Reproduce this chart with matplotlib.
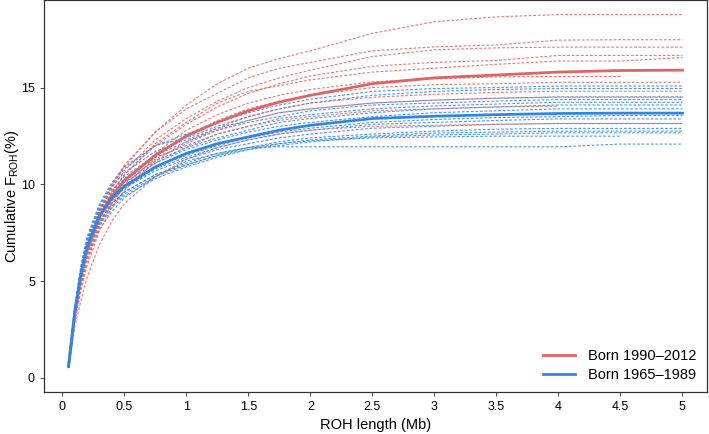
import numpy as np
import matplotlib
matplotlib.use("Agg")
import matplotlib.pyplot as plt

plt.rcParams['font.family'] = ['Liberation Sans', 'DejaVu Sans']

# ROH length grid (Mb)
roh_length = [0.05, 0.1, 0.15, 0.2, 0.3, 0.4, 0.5, 0.75, 1.0, 1.25, 1.5, 1.75,
              2.0, 2.5, 3.0, 3.5, 4.0, 4.5, 5.0]

nan = float('nan')

# Born 1990-2012: mean and individual cumulative F_ROH (%)
young_mean = [0.6, 3.3, 5.2, 6.6, 8.3, 9.4, 10.2, 11.5, 12.5, 13.2, 13.8, 14.25,
              14.6, 15.2, 15.5, 15.65, 15.8, 15.88, 15.9]
young_r01 = [0.6, 3.2, 5.1, 6.6, 8.6, 9.9, 10.9, 12.7, 14.1, 15.2, 16.0, 16.5, 16.9, 17.8, 18.4, 18.65, 18.77, 18.77, 18.77]
young_r02 = [0.6, 3.3, 5.3, 6.8, 8.7, 10.0, 11.0, 12.7, 13.9, 14.7, 15.5, 16.0, 16.3, 16.9, 17.1, 17.2, 17.45, 17.47, 17.47]
young_r03 = [0.6, 3.2, 5.2, 6.7, 8.6, 9.8, 10.7, 12.3, 13.4, 14.3, 15.0, 15.5, 15.9, 16.6, 16.95, 17.05, 17.09, 17.09, 17.09]
young_r04 = [0.6, 3.1, 5.0, 6.5, 8.4, 9.6, 10.5, 12.0, 13.1, 14.0, 14.7, 15.2, 15.6, 16.1, 16.3, 16.4, 16.66, 16.66, 16.66]
young_r05 = [0.6, 3.3, 5.2, 6.6, 8.4, 9.6, 10.5, 12.1, 13.2, 14.2, 14.8, 15.1, 15.4, 15.8, 16.0, 16.2, 16.37, 16.37, 16.55]
young_r06 = [0.6, 3.0, 4.8, 6.2, 8.0, 9.2, 10.1, 11.6, 12.8, 13.6, 14.2, 14.6, 14.9, 15.3, 15.45, 15.55, 15.57, 15.57, nan]
young_r07 = [0.6, 3.0, 4.7, 6.0, 7.8, 9.0, 9.9, 11.4, 12.5, 13.3, 13.9, 14.3, 14.6, 15.0, 15.15, 15.2, 15.27, 15.27, 15.27]
young_r08 = [0.6, 2.9, 4.5, 5.8, 7.6, 8.8, 9.7, 11.2, 12.2, 12.9, 13.5, 13.9, 14.2, 14.5, 14.65, 14.75, 14.81, 14.81, 14.81]
young_r09 = [0.6, 3.2, 5.1, 6.5, 8.2, 9.2, 10.0, 11.3, 12.1, 12.8, 13.3, 13.7, 13.9, 14.2, 14.35, 14.45, 14.5, 14.5, 14.5]
young_r10 = [0.6, 3.1, 4.9, 6.3, 8.0, 9.1, 9.9, 11.1, 11.9, 12.6, 13.0, 13.3, 13.5, 13.8, 13.9, 14.0, 14.04, nan, nan]
young_r11 = [0.5, 2.6, 4.0, 5.2, 6.9, 8.1, 9.0, 10.4, 11.3, 11.9, 12.3, 12.6, 12.8, 13.0, 13.05, 13.1, 13.15, 13.15, 13.15]

# Born 1965-1989: mean and individual cumulative F_ROH (%)
old_mean = [0.6, 3.4, 5.4, 6.8, 8.4, 9.3, 9.9, 10.9, 11.6, 12.1, 12.45, 12.8,
            13.05, 13.4, 13.52, 13.6, 13.66, 13.68, 13.68]
old_b01 = [0.6, 3.6, 5.7, 7.2, 8.9, 10.0, 10.8, 12.0, 12.6, 13.2, 13.7, 14.1, 14.4, 14.8, 14.95, 15.0, 15.08, 15.08, 15.08]
old_b02 = [0.6, 3.7, 5.8, 7.3, 9.0, 10.1, 10.9, 12.0, 12.4, 13.0, 13.5, 13.9, 14.2, 14.6, 14.8, 14.9, 14.95, 14.95, 14.95]
old_b03 = [0.6, 3.5, 5.6, 7.1, 8.8, 9.9, 10.6, 11.7, 12.3, 12.9, 13.3, 13.7, 13.9, 14.2, 14.35, 14.45, 14.52, 14.52, 14.52]
old_b04 = [0.6, 3.6, 5.7, 7.1, 8.7, 9.7, 10.4, 11.5, 12.2, 12.8, 13.2, 13.5, 13.8, 14.1, 14.2, 14.3, 14.38, 14.38, 14.38]
old_b05 = [0.6, 3.4, 5.5, 7.0, 8.6, 9.6, 10.3, 11.4, 12.0, 12.6, 13.0, 13.4, 13.6, 13.9, 14.05, 14.15, 14.24, 14.24, 14.24]
old_b06 = [0.6, 3.5, 5.5, 6.9, 8.5, 9.5, 10.2, 11.2, 11.9, 12.4, 12.8, 13.2, 13.4, 13.7, 13.9, 14.0, 14.1, 14.1, 14.1]
old_b07 = [0.6, 3.6, 5.6, 7.0, 8.6, 9.5, 10.1, 11.1, 11.8, 12.3, 12.7, 13.0, 13.2, 13.5, 13.7, 13.8, 13.9, 13.9, 13.9]
old_b08 = [0.6, 3.4, 5.4, 6.8, 8.4, 9.3, 9.9, 10.9, 11.5, 12.0, 12.4, 12.7, 12.9, 13.2, 13.35, 13.45, 13.5, 13.56, 13.56]
old_b09 = [0.6, 3.3, 5.3, 6.7, 8.3, 9.2, 9.8, 10.8, 11.4, 11.9, 12.3, 12.6, 12.8, 13.1, 13.2, 13.3, 13.38, 13.38, 13.38]
old_b10 = [0.6, 3.5, 5.4, 6.8, 8.3, 9.2, 9.8, 10.7, 11.3, 11.8, 12.1, 12.4, 12.6, 12.9, 13.0, 13.1, 13.14, 13.14, 13.14]
old_b11 = [0.6, 3.3, 5.2, 6.6, 8.1, 9.0, 9.6, 10.5, 11.1, 11.6, 11.9, 12.2, 12.4, 12.6, 12.75, 12.85, 12.89, 12.89, 12.89]
old_b12 = [0.6, 3.4, 5.3, 6.6, 8.1, 9.0, 9.6, 10.5, 11.0, 11.5, 11.8, 12.1, 12.3, 12.5, 12.65, 12.7, 12.75, 12.75, 12.75]
old_b13 = [0.6, 3.2, 5.1, 6.4, 7.9, 8.8, 9.4, 10.3, 10.9, 11.4, 11.8, 12.0, 12.2, 12.45, 12.55, 12.6, 12.66, 12.66, 12.66]
old_b14 = [0.6, 3.3, 5.2, 6.5, 8.0, 8.9, 9.5, 10.4, 11.0, 11.5, 11.9, 12.1, 12.25, 12.4, 12.45, 12.49, 12.49, 12.49, nan]
old_b15 = [0.6, 3.1, 4.9, 6.2, 7.7, 8.6, 9.3, 10.4, 11.2, 11.6, 11.9, 11.94, 11.94, 11.94, 11.94, 11.94, 11.94, 12.08, 12.08]

young_individuals = [young_r01, young_r02, young_r03, young_r04, young_r05, young_r06,
                     young_r07, young_r08, young_r09, young_r10, young_r11]
old_individuals = [old_b01, old_b02, old_b03, old_b04, old_b05, old_b06, old_b07, old_b08,
                   old_b09, old_b10, old_b11, old_b12, old_b13, old_b14, old_b15]

x_ticks = [0, 0.5, 1, 1.5, 2, 2.5, 3, 3.5, 4, 4.5, 5]
x_ticklabels = ['0', '0.5', '1', '1.5', '2', '2.5', '3', '3.5', '4', '4.5', '5']
y_ticks = [0, 5, 10, 15]

RED = '#E06464'
BLUE = '#2E86E6'

fig = plt.figure(figsize=(7.09, 4.34), dpi=100)
ax = fig.add_axes([0.062, 0.097, 0.935, 0.902])

dash = (0, (2.5, 1.6))
for ys in old_individuals:
    ax.plot(roh_length, ys, color=BLUE, lw=0.8, ls=dash, alpha=0.85)
for ys in young_individuals:
    ax.plot(roh_length, ys, color=RED, lw=0.8, ls=dash, alpha=0.85)

ax.plot(roh_length, young_mean, color=RED, lw=2.0, label='Born 1990\u20132012')
ax.plot(roh_length, old_mean, color=BLUE, lw=2.0, label='Born 1965\u20131989')

ax.set_xlim(-0.148, 5.197)
ax.set_ylim(-0.72, 19.5)
ax.set_xticks(x_ticks)
ax.set_xticklabels(x_ticklabels)
ax.set_yticks(y_ticks)
ax.tick_params(axis='both', labelsize=9, length=3, width=0.6, color='#333333')
for s in ax.spines.values():
    s.set_color('#333333')
    s.set_linewidth(0.9)

ax.set_xlabel('ROH length (Mb)', fontsize=10.5, labelpad=4)
ax.set_ylabel(r'Cumulative F$_{\mathregular{ROH}}$(%)', fontsize=10.5)
ax.yaxis.set_label_coords(-0.034, 0.5)

leg = ax.legend(loc='lower right', frameon=False, fontsize=10.5, handlelength=2.2,
                labelspacing=0.3, borderaxespad=0.3, handletextpad=0.9)

fig.savefig('out.png', dpi=100)
